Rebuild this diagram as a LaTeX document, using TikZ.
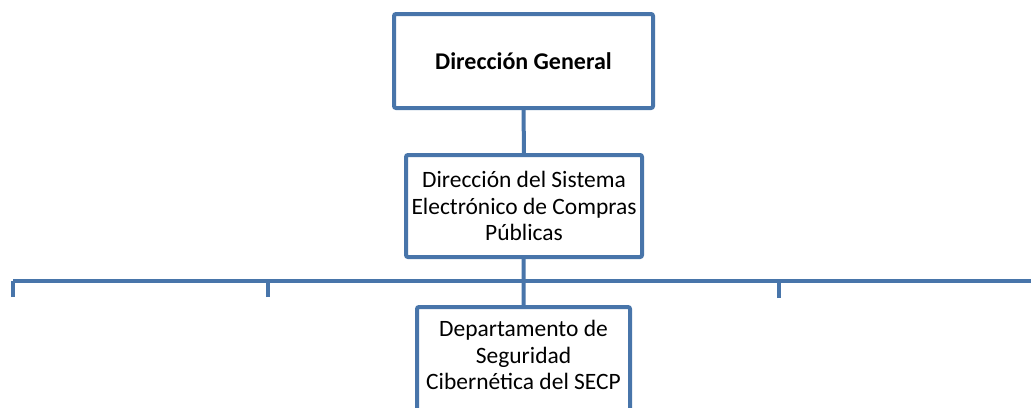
\documentclass[tikz,border=0pt]{standalone}
\usepackage{fontspec}
\setmainfont{Carlito}
\definecolor{orgblue}{RGB}{72,117,170}

\tikzset{
  orgbox/.style={draw=orgblue,line width=3pt,rounded corners=1.5pt,fill=white,
    align=center,inner sep=0pt,font=\fontsize{17.6}{20}\selectfont},
  orgline/.style={draw=orgblue,line width=3pt}
}

\begin{document}
\begin{tikzpicture}[x=0.75pt,y=-0.75pt]
  \useasboundingbox (0,0) rectangle (1031,407);
  \clip (0,0) rectangle (1031,407);
  % boxes
  \node[orgbox,minimum width=194.25pt,minimum height=70.5pt,font=\fontsize{18}{20}\selectfont\bfseries]
    (dg) at (523.5,61) {Dirección General};
  \node[orgbox,minimum width=177pt,minimum height=76.5pt]
    (dsecp) at (524,206) {Dirección del Sistema\\Electrónico de Compras\\Públicas};
  \node[orgbox,anchor=north,minimum width=159.75pt,inner ysep=10pt,text depth=60pt]
    (dsc) at (523.5,305) {Departamento de\\Seguridad\\Cibernética del SECP};
  % bar
  \coordinate (barmid) at (523.5,281);
  \coordinate (barl) at (13,281);
  \coordinate (barr) at (1035,281);
  \coordinate (tick1) at (13,297);
  \coordinate (tick2) at (268,297);
  \coordinate (tick3) at (779,298);
  \draw[orgline] (dg) -- (dsecp);
  \draw[orgline] (dsecp) -- (barmid) -- (dsc);
  \draw[orgline] (barl) -- (barr);
  \draw[orgline] (tick1) -- (tick1 |- barl);
  \draw[orgline] (tick2) -- (tick2 |- barl);
  \draw[orgline] (tick3) -- (tick3 |- barl);
\end{tikzpicture}
\end{document}
